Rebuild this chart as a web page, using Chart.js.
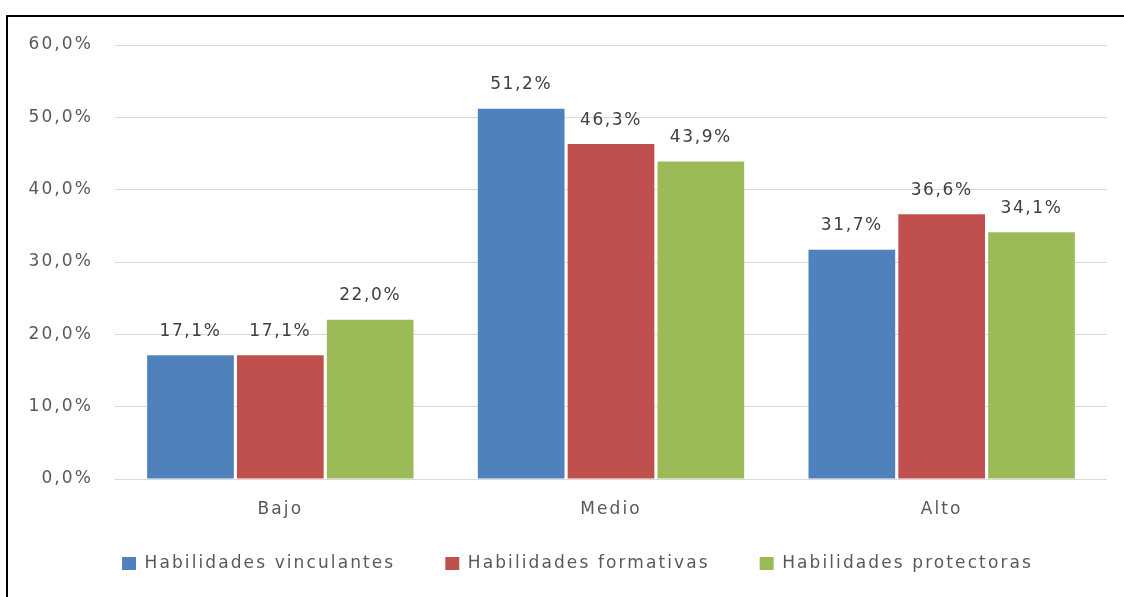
<!DOCTYPE html>
<html>
<head>
<meta charset="utf-8">
<script src="https://cdn.jsdelivr.net/npm/chart.js@4.4.0/dist/chart.umd.min.js"></script>
<style>
  html, body { margin: 0; padding: 0; background: #fff; }
  #wrap { width: 1124px; height: 597px; position: relative; }
</style>
</head>
<body>
<div id="wrap"><canvas id="chart"></canvas></div>
<script>
// Niveles por tipo de habilidad
const categories = ['Bajo', 'Medio', 'Alto'];
const vinculantes = [17.1, 51.2, 31.7];
const formativas = [17.1, 46.3, 36.6];
const protectoras = [22.0, 43.9, 34.1];
const seriesNames = ['Habilidades vinculantes', 'Habilidades formativas', 'Habilidades protectoras'];
const yTicks = [0, 10, 20, 30, 40, 50, 60];

const FONT = '"DejaVu Sans", sans-serif';
const SPACING = '2.1px';

function pct(v) {
    return v.toFixed(1).replace('.', ',') + '%';
}

// wide letter spacing like the original, set before measuring and drawing
const spacing = {
    id: 'spacing',
    beforeLayout(chart) { chart.ctx.letterSpacing = SPACING; },
    beforeDraw(chart) { chart.ctx.letterSpacing = SPACING; }
};

// legend sits a bit higher and right of centre in the original
const legendShift = {
    id: 'legendShift',
    afterLayout(chart) {
        const lg = chart.legend;
        lg.top -= 14;
        lg.bottom -= 14;
        lg.left += 24;
        lg.right += 24;
    }
};

// draws the value on top of each bar
const valueLabels = {
    id: 'valueLabels',
    afterDatasetsDraw(chart) {
        const ctx = chart.ctx;
        ctx.save();
        ctx.letterSpacing = '1.6px';
        ctx.font = '17px ' + FONT;
        ctx.fillStyle = '#404040';
        ctx.textAlign = 'center';
        ctx.textBaseline = 'middle';
        chart.data.datasets.forEach((ds, i) => {
            chart.getDatasetMeta(i).data.forEach((bar, j) => {
                ctx.fillText(pct(ds.data[j]), bar.x, bar.y - 24);
            });
        });
        ctx.restore();
    }
};

// frame around the picture (only top and left edges are visible)
const frame = {
    id: 'frame',
    afterDraw(chart) {
        const ctx = chart.ctx;
        ctx.save();
        ctx.strokeStyle = '#000';
        ctx.lineWidth = 2;
        ctx.beginPath();
        ctx.moveTo(1124, 16);
        ctx.lineTo(7, 16);
        ctx.lineTo(7, 597);
        ctx.stroke();
        ctx.restore();
    }
};

new Chart(document.getElementById('chart'), {
    type: 'bar',
    data: {
        labels: categories,
        datasets: [
            { label: seriesNames[0], data: vinculantes, backgroundColor: '#4F81BD' },
            { label: seriesNames[1], data: formativas, backgroundColor: '#C0504D' },
            { label: seriesNames[2], data: protectoras, backgroundColor: '#9BBB59' }
        ]
    },
    options: {
        responsive: true,
        maintainAspectRatio: false,
        animation: false,
        categoryPercentage: 0.815,
        barPercentage: 0.965,
        layout: {
            padding: { top: 45, right: 17, bottom: 1, left: 0 }
        },
        plugins: {
            legend: {
                position: 'bottom',
                labels: {
                    boxWidth: 14,
                    boxHeight: 13,
                    padding: 50,
                    color: '#595959',
                    font: { family: FONT, size: 17 }
                }
            },
            tooltip: { enabled: false }
        },
        scales: {
            x: {
                afterFit(scale) { scale.height = 40; },
                grid: { display: false },
                border: { display: false },
                ticks: {
                    color: '#595959',
                    padding: 12,
                    font: { family: FONT, size: 17 }
                }
            },
            y: {
                min: 0,
                max: 60,
                afterFit(scale) { scale.width = 115; },
                afterBuildTicks(scale) {
                    scale.ticks = yTicks.map(v => ({ value: v }));
                },
                grid: {
                    color: '#D9D9D9',
                    drawTicks: false
                },
                border: { display: false },
                ticks: {
                    color: '#595959',
                    padding: 22,
                    font: { family: FONT, size: 17 },
                    callback: v => pct(v)
                }
            }
        }
    },
    plugins: [spacing, legendShift, valueLabels, frame]
});
</script>
</body>
</html>
